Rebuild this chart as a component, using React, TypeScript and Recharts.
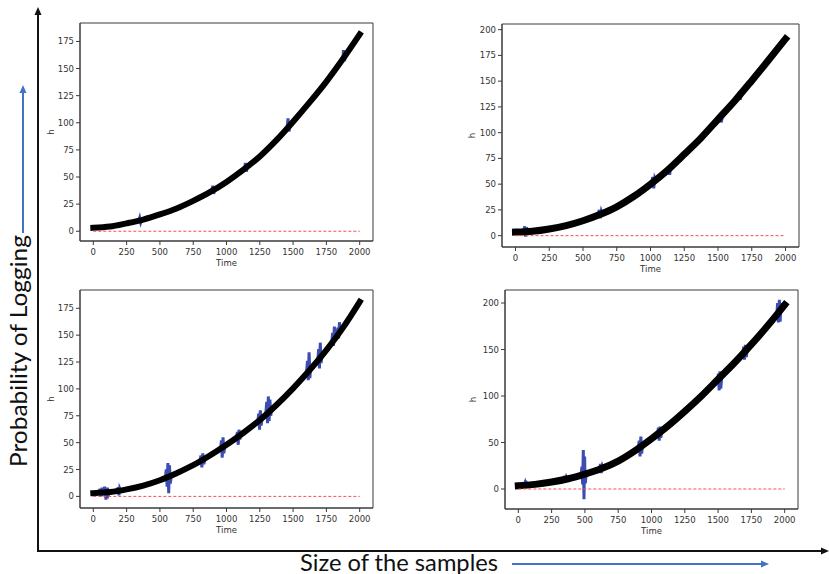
import { LineChart, Line, XAxis, YAxis, ReferenceArea, Label } from "recharts";

// time grid the black estimate was read at
const TIME = [0, 125, 250, 375, 500, 625, 750, 875, 1000, 1125, 1250, 1375, 1500, 1625, 1750, 1875, 2000];

// black band (h), one per panel
const H_TOP_LEFT = [3.2, 4.3, 7.3, 10.8, 15.5, 21, 28, 36, 45.5, 56.5, 69, 84, 101, 119, 138, 159, 181.5];
const H_TOP_RIGHT = [3.5, 4.3, 6.5, 9.8, 14.5, 20.5, 28, 38, 50, 63.5, 79, 95, 113, 131, 150.5, 170.5, 191];
const H_BOTTOM_LEFT = [3, 4, 6.5, 10, 15, 21.5, 29, 38, 48, 59, 71, 85, 100.5, 117.5, 136, 157, 181];
const H_BOTTOM_RIGHT = [3.5, 5, 7.5, 11, 16, 22, 30, 41, 54, 68, 83.5, 100, 118, 136, 155.5, 176, 198];

// blue spikes: [time, h] pairs where the measured value jumps off the band
const SPIKES_TOP_LEFT = [
  [[340, 9.5], [348, 12.5], [356, 8], [364, 10.5]],
  [[890, 37], [897, 42], [904, 34.5], [912, 38.5]],
  [[1135, 57.5], [1142, 63], [1149, 55], [1157, 59]],
  [[1455, 95], [1462, 104], [1469, 92], [1478, 97]],
  [[1870, 158], [1878, 167], [1886, 157], [1894, 163]],
];
const SPIKES_TOP_RIGHT = [
  [[60, 3.6], [68, 9], [75, -1], [82, 8], [90, 3.8]],
  [[612, 20], [620, 25], [628, 17], [636, 24], [645, 21]],
  [[1008, 51], [1016, 57], [1024, 46], [1032, 56], [1042, 53]],
  [[1130, 63.5], [1136, 67], [1142, 59], [1148, 66], [1156, 65]],
  [[1510, 112], [1517, 118], [1524, 110], [1532, 115]],
  [[1650, 135], [1658, 140], [1665, 132], [1672, 137.5]],
];
const SPIKES_BOTTOM_LEFT = [
  [[40, 3.2], [50, 7], [58, 0], [66, 8], [75, 1], [85, 9], [95, -3], [105, 8], [115, 2], [122, 4]],
  [[180, 5], [186, 8.5], [192, 1], [198, 7.5], [205, 5.5]],
  [[540, 16.5], [548, 25], [554, 9], [560, 31], [566, 3], [572, 29], [578, 12], [585, 18.5]],
  [[800, 32], [808, 38], [815, 27], [822, 40], [830, 30], [838, 35]],
  [[955, 44], [962, 52], [968, 36], [974, 55], [980, 40], [988, 47]],
  [[1075, 55], [1082, 60], [1088, 48], [1094, 62], [1100, 53], [1108, 57.5]],
  [[1235, 69.5], [1242, 77], [1248, 62], [1254, 80], [1260, 66], [1268, 72.5]],
  [[1295, 76.5], [1302, 88], [1308, 68], [1314, 93], [1320, 70], [1326, 90], [1332, 75], [1340, 82.5]],
  [[1600, 114], [1608, 126], [1614, 108], [1620, 134], [1626, 110], [1632, 120.5]],
  [[1685, 126], [1692, 137], [1698, 119], [1704, 143], [1710, 124], [1718, 131.5]],
  [[1790, 143], [1797, 152], [1803, 140], [1810, 158], [1816, 146]],
  [[1830, 149], [1836, 157], [1842, 147], [1848, 162], [1855, 153]],
];
const SPIKES_BOTTOM_RIGHT = [
  [[40, 3.7], [50, 7], [58, 1.5], [66, 6], [75, 4]],
  [[340, 10.5], [348, 14], [355, 8], [362, 13], [370, 11]],
  [[470, 15], [478, 24], [483, 5], [488, 42], [493, -11], [498, 35], [503, 6], [510, 17]],
  [[610, 21], [617, 27], [623, 17], [630, 25], [637, 22.5]],
  [[900, 44], [908, 52], [914, 35], [920, 56.5], [926, 38], [934, 48]],
  [[1045, 59], [1052, 66], [1058, 52], [1064, 67], [1070, 55], [1078, 63]],
  [[1495, 116], [1502, 124], [1508, 106], [1514, 126.5], [1520, 108], [1528, 121]],
  [[1685, 145], [1692, 153], [1698, 139], [1705, 155], [1712, 142], [1720, 151]],
  [[1940, 186], [1947, 200], [1953, 179], [1960, 203.5], [1966, 180], [1972, 200], [1980, 194]],
];

// red dashed zero line
const ZERO_T = [0, 2000];
const ZERO_H = [0, 0];

const X_TICKS = [0, 250, 500, 750, 1000, 1250, 1500, 1750, 2000];
const Y_TICKS_25 = [0, 25, 50, 75, 100, 125, 150, 175];
const Y_TICKS_25_200 = [0, 25, 50, 75, 100, 125, 150, 175, 200];
const Y_TICKS_50 = [0, 50, 100, 150, 200];

const toPoints = (ts, hs) => ts.map((t, i) => ({ t, h: hs[i] }));
const blueSeries = (hs, spikes) =>
  [...toPoints(TIME, hs), ...spikes.flat().map(([t, h]) => ({ t, h }))].sort((a, b) => a.t - b.t);

const zero = toPoints(ZERO_T, ZERO_H);
const AXIS = "#3a3a3a";
const tickStyle = { fill: "#333", fontSize: 8.5, fontFamily: "DejaVu Sans" };
const labelStyle = { fill: "#333", fontSize: 8.5, fontFamily: "DejaVu Sans" };

const panels = [
  {
    key: "tl", left: 40, top: 10, width: 340, height: 270,
    margin: { top: 13, right: 7, left: 0, bottom: 11 },
    yDomain: [-9, 192], yTicks: Y_TICKS_25, hs: H_TOP_LEFT, spikes: SPIKES_TOP_LEFT,
    lineWidth: 6, hOffset: 11,
  },
  {
    key: "tr", left: 440, top: 10, width: 380, height: 280,
    margin: { top: 14, right: 21, left: 22, bottom: 15 },
    yDomain: [-11, 205.5], yTicks: Y_TICKS_25_200, hs: H_TOP_RIGHT, spikes: SPIKES_TOP_RIGHT,
    lineWidth: 7, hOffset: 9.7,
  },
  {
    key: "bl", left: 40, top: 280, width: 340, height: 270,
    margin: { top: 10, right: 7, left: 0, bottom: 14 },
    yDomain: [-10.8, 192], yTicks: Y_TICKS_25, hs: H_BOTTOM_LEFT, spikes: SPIKES_BOTTOM_LEFT,
    lineWidth: 6, hOffset: 11,
  },
  {
    key: "br", left: 440, top: 280, width: 380, height: 270,
    margin: { top: 10, right: 22, left: 25, bottom: 13 },
    yDomain: [-21.5, 214], yTicks: Y_TICKS_50, hs: H_BOTTOM_RIGHT, spikes: SPIKES_BOTTOM_RIGHT,
    lineWidth: 7, hOffset: 8,
  },
];

function Panel({ p }) {
  const black = toPoints(TIME, p.hs);
  const blue = blueSeries(p.hs, p.spikes);
  return (
    <div style={{ position: "absolute", left: p.left, top: p.top }}>
      <LineChart width={p.width} height={p.height} margin={p.margin}>
        <XAxis
          type="number"
          dataKey="t"
          domain={[-100, 2100]}
          allowDataOverflow
          ticks={X_TICKS}
          interval={0}
          height={28}
          tickSize={4}
          tickMargin={3.5}
          stroke={AXIS}
          tick={tickStyle}
        >
          <Label value="Time" position="insideBottom" offset={3} style={labelStyle} />
        </XAxis>
        <YAxis
          type="number"
          dataKey="h"
          domain={p.yDomain}
          allowDataOverflow
          ticks={p.yTicks}
          interval={0}
          width={40}
          tickSize={4}
          tickMargin={2}
          stroke={AXIS}
          tick={tickStyle}
        >
          <Label
            value="h"
            angle={-90}
            position="insideLeft"
            offset={p.hOffset}
            style={{ ...labelStyle, textAnchor: "middle" }}
          />
        </YAxis>
        <ReferenceArea
          x1={-100}
          x2={2100}
          y1={p.yDomain[0]}
          y2={p.yDomain[1]}
          fill="none"
          stroke={AXIS}
          strokeWidth={1}
          ifOverflow="visible"
        />
        <Line
          data={blue}
          dataKey="h"
          type="linear"
          stroke="#3b4db0"
          strokeWidth={3}
          dot={false}
          isAnimationActive={false}
        />
        <Line
          data={black}
          dataKey="h"
          type="monotone"
          stroke="#000"
          strokeWidth={p.lineWidth}
          strokeLinecap="square"
          dot={false}
          isAnimationActive={false}
        />
        <Line
          data={zero}
          dataKey="h"
          type="linear"
          stroke="#ff4d4d"
          strokeWidth={1}
          strokeDasharray="3 2"
          dot={false}
          isAnimationActive={false}
        />
      </LineChart>
    </div>
  );
}

export default function App() {
  return (
    <div style={{ position: "absolute", left: 0, top: 0, width: 829, height: 574, background: "#fff" }}>
      {panels.map((p) => (
        <Panel key={p.key} p={p} />
      ))}
      <svg
        width={829}
        height={574}
        style={{ position: "absolute", left: 0, top: 0, pointerEvents: "none" }}
      >
        {/* outer black axes */}
        <line x1={38} y1={552} x2={38} y2={14} stroke="#111" strokeWidth={2} />
        <polygon points="38,7 34.5,15 41.5,15" fill="#111" />
        <line x1={37} y1={551} x2={822} y2={551} stroke="#111" strokeWidth={2} />
        <polygon points="829,551 821,547.5 821,554.5" fill="#111" />
        {/* blue arrows */}
        <line x1={23} y1={233} x2={23} y2={92} stroke="#4472c4" strokeWidth={2} />
        <polygon points="23,85 19.5,93 26.5,93" fill="#4472c4" />
        <line x1={512} y1={564} x2={762} y2={564} stroke="#4472c4" strokeWidth={2} />
        <polygon points="769,564 761,560.5 761,567.5" fill="#4472c4" />
        <text
          x={27}
          y={351}
          transform="rotate(-90 27 351)"
          textAnchor="middle"
          fontFamily="Lato"
          fontSize={23}
          fill="#111"
          textLength={232}
          lengthAdjust="spacingAndGlyphs"
        >
          Probability of Logging
        </text>
        <text
          x={300}
          y={570.5}
          fontFamily="Lato"
          fontSize={23}
          fill="#111"
          textLength={198}
          lengthAdjust="spacingAndGlyphs"
        >
          Size of the samples
        </text>
      </svg>
    </div>
  );
}
